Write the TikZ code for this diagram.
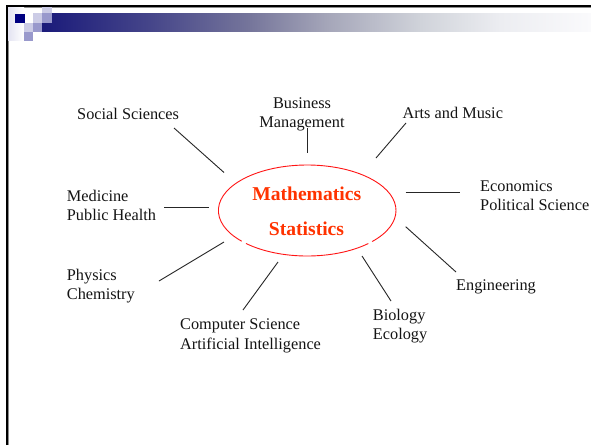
\documentclass[tikz,border=0pt]{standalone}
\usepackage{fontspec}
\setmainfont{Liberation Serif}
\definecolor{navysq}{RGB}{0,0,128}
\definecolor{lightsq}{RGB}{204,204,230}
\definecolor{medsq}{RGB}{153,153,204}
\definecolor{fadesq}{RGB}{228,228,242}
\definecolor{mred}{RGB}{255,51,0}
\definecolor{ellred}{RGB}{255,20,20}
\definecolor{barA}{RGB}{26,26,122}
\definecolor{barB}{RGB}{70,70,138}
\definecolor{barC}{RGB}{118,118,155}
\definecolor{barD}{RGB}{165,166,185}
\definecolor{barE}{RGB}{208,211,218}
\definecolor{barF}{RGB}{236,237,241}
\definecolor{barG}{RGB}{250,250,252}
\pgfdeclarehorizontalshading{barshade}{100bp}{color(0bp)=(barA); color(25bp)=(barA); color(35bp)=(barB); color(44bp)=(barC); color(51bp)=(barD); color(59.5bp)=(barE); color(66.7bp)=(barF); color(75bp)=(barG); color(100bp)=(barG)}
\tikzset{
  lbl/.style={font=\fontsize{16.3}{19.5}\selectfont, inner sep=0pt, align=left, text=black!92},
  con/.style={draw=black!85, line width=0.9pt},
  mathtxt/.style={font=\fontsize{19.6}{23}\selectfont\bfseries, text=mred, inner sep=0pt},
  ell/.style={draw=ellred, line width=0.9pt},
}
\begin{document}
\begin{tikzpicture}[x=1pt,y=-1pt]
\useasboundingbox (0,0) rectangle (591,445);
\fill[white] (0,0) rectangle (591,445);
% slide frame
\draw[black!45, line width=1pt] (8.7,445) -- (8.7,7) -- (591,7);
\draw[black, line width=2pt] (7,445) -- (7,5.5) -- (591,5.5);
% title decoration
\shade[left color=fadesq, right color=white] (8,7.5) rectangle (24,40.7);
\shade[shading=barshade] (41.7,13.3) rectangle (591,31.7);
\fill[navysq] (15,14) rectangle (25,22.7);
\fill[lightsq] (33.3,13.3) rectangle (41.7,22.7);
\fill[medsq] (41.7,13.3) rectangle (51.7,22.7);
\fill[lightsq] (41.7,7.3) rectangle (51.7,13.3);
\fill[lightsq] (24,22.7) rectangle (33.3,31.7);
\fill[medsq] (33.3,22.7) rectangle (41.7,31.7);
\fill[medsq] (24,31.7) rectangle (33.3,40.7);
% central ellipse (with two small gaps at the bottom)
\coordinate (ctr) at (307.2,210.5);
\draw[ell] (ctr) ++(137.5:88.8 and 45.5) arc[start angle=137.5, end angle=403, x radius=88.8, y radius=45.5];
\draw[ell] (ctr) ++(46.5:88.8 and 45.5) arc[start angle=46.5, end angle=133.6, x radius=88.8, y radius=45.5];
\node[mathtxt, anchor=base] (m1) at (306.7,200.5) {Mathematics};
\node[mathtxt, anchor=base] (m2) at (306.5,235) {Statistics};
% labels (base anchor = baseline of the last line)
\node[lbl, anchor=base west] (soc) at (77,119) {Social Sciences};
\node[lbl, align=center, anchor=base] (bus) at (302,127.5) {Business\\Management};
\node[lbl, anchor=base west] (art) at (402.3,118.5) {Arts and Music};
\node[lbl, anchor=base west] (eco) at (480,210.5) {Economics\\Political Science};
\node[lbl, anchor=base west] (med) at (66.7,220.5) {Medicine\\Public Health};
\node[lbl, anchor=base west] (phy) at (66.7,299.8) {Physics\\Chemistry};
\node[lbl, anchor=base west] (cs) at (180,349) {Computer Science\\Artificial Intelligence};
\node[lbl, anchor=base west] (bio) at (372.7,339.5) {Biology\\Ecology};
\node[lbl, anchor=base west] (eng) at (456,290.5) {Engineering};
% connector end points
\coordinate (socA) at (174,128);   \coordinate (socB) at (224,172.5);
\coordinate (busA) at (307,128);   \coordinate (busB) at (307,153);
\coordinate (medA) at (164,207);   \coordinate (medB) at (209,207);
\coordinate (artA) at (406,123);   \coordinate (artB) at (376,158);
\coordinate (ecoA) at (405.7,192.3); \coordinate (ecoB) at (460,192.3);
\coordinate (phyA) at (224,242);   \coordinate (phyB) at (159,281);
\coordinate (csA) at (278,262);    \coordinate (csB) at (243,310);
\coordinate (bioA) at (362,256);   \coordinate (bioB) at (391,301);
\coordinate (engA) at (405.7,226.7); \coordinate (engB) at (456,272);
\draw[con] (socA) -- (socB);
\draw[con] (busA) -- (busB);
\draw[con] (medA) -- (medB);
\draw[con] (artA) -- (artB);
\draw[con] (ecoA) -- (ecoB);
\draw[con] (phyA) -- (phyB);
\draw[con] (csA) -- (csB);
\draw[con] (bioA) -- (bioB);
\draw[con] (engA) -- (engB);
\end{tikzpicture}
\end{document}
